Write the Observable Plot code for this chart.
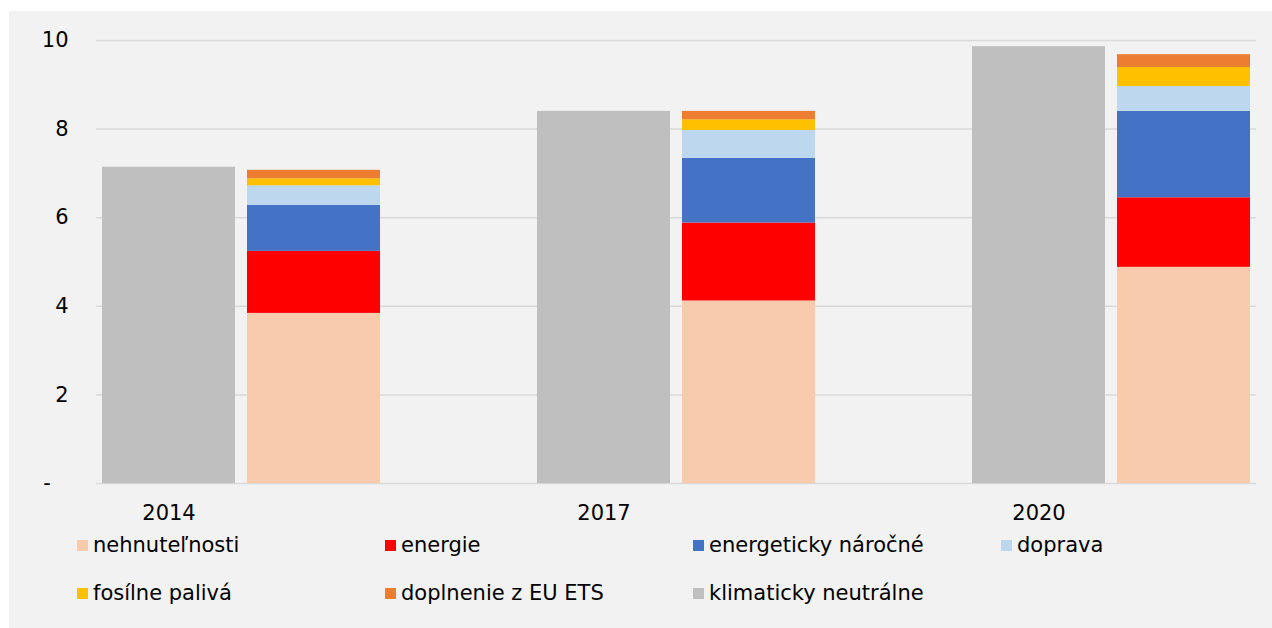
<!DOCTYPE html>
<html>
<head>
<meta charset="utf-8">
<script src="https://cdn.jsdelivr.net/npm/d3@7"></script>
<script src="https://cdn.jsdelivr.net/npm/@observablehq/plot@0.6"></script>
<style>
  html, body { margin: 0; padding: 0; background: #ffffff; }
  body { width: 1272px; height: 628px; position: relative; overflow: hidden; font-family: "DejaVu Sans", Verdana, sans-serif; }
  #panel { position: absolute; left: 9px; top: 11px; right: 0; bottom: 0; background: #f2f2f2; }
  #chart { position: absolute; left: 0; top: 0; }
  #legend { position: absolute; left: 77px; top: 521px; display: grid; grid-template-columns: repeat(4, 308px); grid-auto-rows: 48px; }
  .item { display: flex; align-items: center; font-size: 21px; color: #000; white-space: nowrap; }
  .sw { width: 11px; height: 11px; margin-right: 5px; flex: none; }
</style>
</head>
<body>
<div id="panel"></div>
<div id="chart"></div>
<div id="legend"></div>
<script>
// ---- data ----
const years = ["2014", "2017", "2020"];
const categories = ["nehnuteľnosti", "energie", "energeticky náročné", "doprava", "fosílne palivá", "doplnenie z EU ETS", "klimaticky neutrálne"];
const colors = ["#f8cbad", "#ff0000", "#4472c4", "#bdd7ee", "#ffc000", "#ed7d31", "#bfbfbf"];
const nehnutelnosti = [3.84, 4.12, 4.88];
const energie = [1.40, 1.76, 1.57];
const energetickyNarocne = [1.04, 1.46, 1.95];
const doprava = [0.44, 0.63, 0.56];
const fosilnePaliva = [0.16, 0.24, 0.43];
const doplnenieEts = [0.19, 0.19, 0.29];
const klimatickyNeutralne = [7.14, 8.40, 9.86];
const yTicks = [0, 2, 4, 6, 8, 10];

// ---- build tables ----
const stackedSeries = [nehnutelnosti, energie, energetickyNarocne, doprava, fosilnePaliva, doplnenieEts];
const rows = [];
years.forEach((yr, i) => {
  rows.push({slot: yr + " k", cat: categories[6], value: klimatickyNeutralne[i]});
  stackedSeries.forEach((s, j) => rows.push({slot: yr + " s", cat: categories[j], value: s[i]}));
});
const slots = years.flatMap((yr, i) => i < years.length - 1 ? [yr + " k", yr + " s", yr + " gap"] : [yr + " k", yr + " s"]);

const W = 1272, H = 530;
const chart = Plot.plot({
  width: W,
  height: H,
  marginLeft: 96,
  marginRight: 16,
  marginTop: 40,
  marginBottom: 47,
  style: {background: "transparent", fontFamily: "'DejaVu Sans', Verdana, sans-serif", fontSize: "21px", color: "#000"},
  x: {domain: slots, paddingInner: 0.083, paddingOuter: 0.0415, axis: null},
  y: {domain: [0, 10], axis: null},
  color: {domain: categories, range: colors},
  marks: [
    Plot.gridY(yTicks, {stroke: "#d9d9d9", strokeOpacity: 1, strokeWidth: 1.5}),
    Plot.barY(rows, {x: "slot", y: "value", fill: "cat", order: categories}),
    Plot.axisY(yTicks, {label: null, tickSize: 0, tickPadding: 28, fontSize: 21, fill: "#000",
      tickFormat: d => d === 0 ? "-\u2007\u2009" : String(d)}),
    Plot.axisX(slots.filter(s => s.endsWith(" k")), {label: null, tickSize: 0, tickPadding: 22, fontSize: 21, fill: "#000",
      tickFormat: d => d.slice(0, 4)})
  ]
});
document.getElementById("chart").appendChild(chart);

// ---- legend ----
const legend = document.getElementById("legend");
categories.forEach((c, i) => {
  const it = document.createElement("div");
  it.className = "item";
  const sw = document.createElement("span");
  sw.className = "sw";
  sw.style.background = colors[i];
  const tx = document.createElement("span");
  tx.textContent = c;
  it.appendChild(sw);
  it.appendChild(tx);
  legend.appendChild(it);
});
</script>
</body>
</html>
